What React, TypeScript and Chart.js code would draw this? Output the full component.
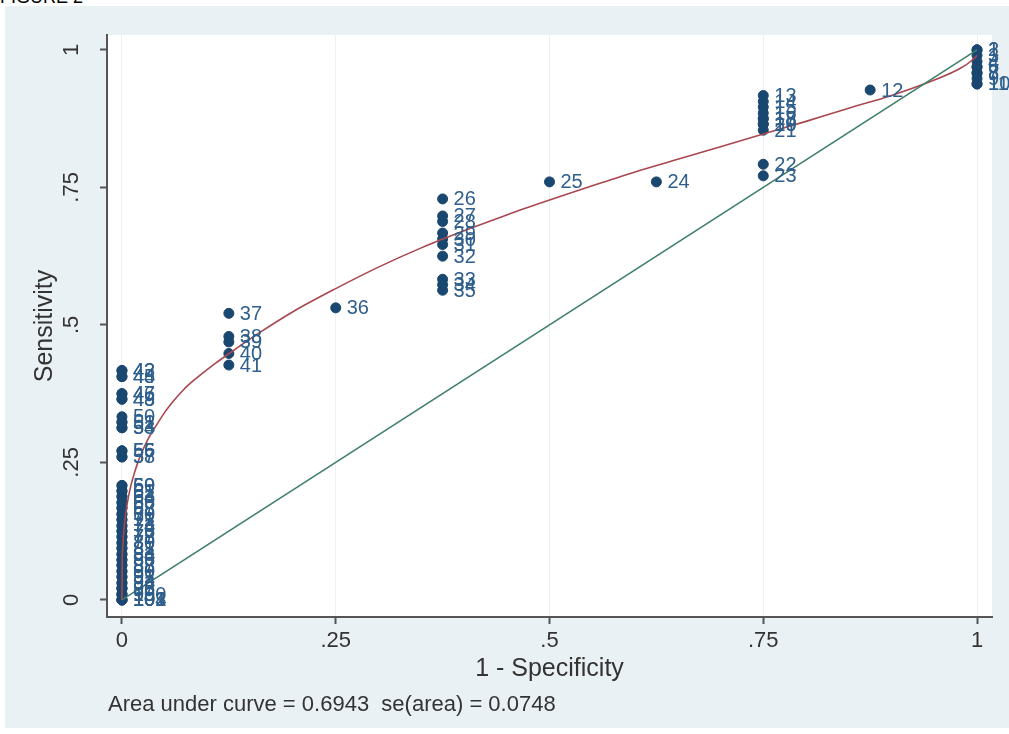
import React, { useEffect, useRef } from "react";
import { Chart, registerables } from "chart.js";

Chart.register(...registerables);

const FONT = "'Liberation Sans', Arial, sans-serif";

const xTicks = [0, 0.25, 0.5, 0.75, 1];
const xTickLabels = ["0", ".25", ".5", ".75", "1"];
const yTicks = [0, 0.25, 0.5, 0.75, 1];
const yTickLabels = ["0", ".25", ".5", ".75", "1"];

const xTitle = "1 - Specificity";
const yTitle = "Sensitivity";
const noteText = "Area under curve = 0.6943  se(area) = 0.0748";
const figureText = "FIGURE 2";

// ROC points (observation labels, 1 - specificity, sensitivity)
const pointLabels = [
  "1", "2", "3", "4", "5", "6", "7", "8", "9", "10", "11",
  "12",
  "13", "14", "15", "16", "17", "18", "19", "20", "21", "22", "23",
  "24", "25",
  "26", "27", "28", "29", "30", "31", "32", "33", "34", "35",
  "36",
  "37", "38", "39", "40", "41",
  "42", "43", "44", "45", "46", "47", "48", "49", "50", "51", "52", "53", "54", "55", "56", "57", "58",
  "59", "60", "61", "62", "63", "64", "65", "66", "67", "68", "69", "70", "71", "72", "73", "74", "75", "76",
  "77", "78", "79", "80", "81", "82", "83", "84", "85", "86", "87", "88", "89", "90", "91", "92", "93", "94",
  "95", "96", "97", "98", "99", "100", "101", "102", "103", "104",
];
const pointX = [
  1, 1, 1, 1, 1, 1, 1, 1, 1, 1, 1,
  0.875,
  0.75, 0.75, 0.75, 0.75, 0.75, 0.75, 0.75, 0.75, 0.75, 0.75, 0.75,
  0.625, 0.5,
  0.375, 0.375, 0.375, 0.375, 0.375, 0.375, 0.375, 0.375, 0.375, 0.375,
  0.25,
  0.125, 0.125, 0.125, 0.125, 0.125,
  0, 0, 0, 0, 0, 0, 0, 0, 0, 0, 0, 0, 0, 0, 0, 0, 0,
  0, 0, 0, 0, 0, 0, 0, 0, 0, 0, 0, 0, 0, 0, 0, 0, 0, 0,
  0, 0, 0, 0, 0, 0, 0, 0, 0, 0, 0, 0, 0, 0, 0, 0, 0, 0,
  0, 0, 0, 0, 0, 0, 0, 0, 0, 0,
];
const pointY = [
  1, 1, 0.99, 0.979, 0.969, 0.969, 0.958, 0.958, 0.948, 0.938, 0.938,
  0.927,
  0.917, 0.906, 0.896, 0.885, 0.875, 0.875, 0.865, 0.865, 0.854, 0.792, 0.771,
  0.76, 0.76,
  0.729, 0.698, 0.688, 0.667, 0.656, 0.646, 0.625, 0.583, 0.573, 0.563,
  0.531,
  0.521, 0.479, 0.469, 0.448, 0.427,
  0.417, 0.417, 0.406, 0.406, 0.375, 0.375, 0.365, 0.365, 0.333, 0.323, 0.323, 0.313, 0.313, 0.271, 0.271, 0.26, 0.26,
  0.208, 0.208, 0.198, 0.198, 0.188, 0.188, 0.177, 0.177, 0.167, 0.167, 0.156, 0.156, 0.146, 0.146, 0.135, 0.135, 0.125, 0.125,
  0.115, 0.115, 0.104, 0.104, 0.094, 0.094, 0.083, 0.083, 0.073, 0.073, 0.063, 0.063, 0.052, 0.052, 0.042, 0.042, 0.031, 0.031,
  0.021, 0.021, 0.021, 0.01, 0.01, 0.01, 0, 0, 0, 0,
];

// Fitted (smooth) ROC curve
const curveX = [0, 0.0003, 0.001, 0.003, 0.006, 0.01, 0.015, 0.02, 0.03, 0.04, 0.05, 0.06, 0.07, 0.08, 0.09, 0.11, 0.13, 0.16, 0.2, 0.25, 0.3, 0.35, 0.4, 0.45, 0.5, 0.55, 0.6, 0.65, 0.7, 0.75, 0.8, 0.85, 0.9, 0.95, 0.98, 0.995, 1];
const curveY = [0, 0.066, 0.098, 0.139, 0.174, 0.205, 0.233, 0.256, 0.291, 0.317, 0.341, 0.361, 0.379, 0.394, 0.407, 0.431, 0.453, 0.485, 0.524, 0.566, 0.605, 0.64, 0.671, 0.7, 0.727, 0.753, 0.778, 0.801, 0.824, 0.847, 0.87, 0.894, 0.917, 0.945, 0.966, 0.982, 0.99];

// Chance diagonal
const diagX = [0, 1];
const diagY = [0, 1];

const NAVY = "#1a476f";
const MAROON = "#a9474f";
const GREEN = "#3f7f68";
const AXIS = "#555555";
const TEXT = "#333333";

export default function App() {
  const ref = useRef<HTMLCanvasElement | null>(null);

  useEffect(() => {
    const canvas = ref.current;
    if (!canvas) return;

    const plotBg = {
      id: "plotBg",
      beforeDraw(chart: any) {
        const { ctx, chartArea: a } = chart;
        ctx.save();
        ctx.fillStyle = "#ffffff";
        ctx.fillRect(a.left, a.top, a.right - a.left, a.bottom - a.top);
        ctx.restore();
      },
    };

    const pointText = {
      id: "pointText",
      afterDatasetsDraw(chart: any) {
        const { ctx } = chart;
        const meta = chart.getDatasetMeta(0);
        ctx.save();
        ctx.font = `20px ${FONT}`;
        ctx.fillStyle = "#2f5f8c";
        ctx.textAlign = "left";
        ctx.textBaseline = "middle";
        meta.data.forEach((el: any, i: number) => {
          ctx.fillText(pointLabels[i], el.x + 11, el.y + 1);
        });
        ctx.restore();
      },
    };

    const extraText = {
      id: "extraText",
      afterDraw(chart: any) {
        const { ctx, scales } = chart;
        const ys = scales.y;
        ctx.save();
        ctx.fillStyle = TEXT;
        ctx.font = `22px ${FONT}`;
        ctx.textAlign = "center";
        ctx.textBaseline = "middle";
        yTicks.forEach((v, i) => {
          const py = ys.getPixelForValue(v);
          ctx.save();
          ctx.translate(67, py);
          ctx.rotate(-Math.PI / 2);
          ctx.fillText(yTickLabels[i], 0, 0);
          ctx.restore();
        });
        ctx.font = `22px ${FONT}`;
        ctx.textAlign = "left";
        ctx.fillText(noteText, 103, 699);
        ctx.restore();
      },
    };

    const chart = new Chart(canvas, {
      type: "scatter",
      data: {
        datasets: [
          {
            label: "ROC points",
            data: pointX.map((x, i) => ({ x, y: pointY[i] })),
            backgroundColor: NAVY,
            borderColor: NAVY,
            pointRadius: 5,
            pointBorderWidth: 1,
            order: 3,
          },
          {
            label: "Fitted ROC",
            data: curveX.map((x, i) => ({ x, y: curveY[i] })),
            showLine: true,
            borderColor: MAROON,
            borderWidth: 1.6,
            pointRadius: 0,
            cubicInterpolationMode: "monotone",
            order: 2,
          } as any,
          {
            label: "Reference",
            data: diagX.map((x, i) => ({ x, y: diagY[i] })),
            showLine: true,
            borderColor: GREEN,
            borderWidth: 1.6,
            pointRadius: 0,
            order: 1,
          } as any,
        ],
      },
      options: {
        animation: false,
        responsive: false,
        maintainAspectRatio: false,
        events: [],
        layout: { padding: { left: 0, top: 29, right: 17, bottom: 0 } },
        plugins: {
          legend: { display: false },
          tooltip: { enabled: false },
          title: { display: false },
        },
        scales: {
          x: {
            type: "linear",
            min: -0.0175,
            max: 1.0175,
            afterBuildTicks: (s: any) => {
              s.ticks = xTicks.map((v) => ({ value: v }));
            },
            afterFit: (s: any) => {
              s.height = 111;
            },
            ticks: {
              autoSkip: false,
              maxRotation: 0,
              minRotation: 0,
              padding: 4,
              color: TEXT,
              font: { family: FONT, size: 22 },
              callback: (_v: any, i: number) => xTickLabels[i],
            },
            grid: {
              drawOnChartArea: true,
              color: "rgba(225,234,238,0.7)",
              lineWidth: 1,
              drawTicks: true,
              tickLength: 7,
              tickColor: AXIS,
              tickWidth: 2,
            },
            border: { display: true, color: AXIS, width: 2 },
            title: {
              display: true,
              text: xTitle,
              color: TEXT,
              font: { family: FONT, size: 25 },
              padding: { top: 0, bottom: 44 },
            },
          },
          y: {
            type: "linear",
            min: -0.031,
            max: 1.027,
            afterBuildTicks: (s: any) => {
              s.ticks = yTicks.map((v) => ({ value: v }));
            },
            afterFit: (s: any) => {
              s.width = 102;
            },
            ticks: {
              autoSkip: false,
              color: "rgba(0,0,0,0)",
              font: { family: FONT, size: 22 },
              callback: (_v: any, i: number) => yTickLabels[i],
            },
            grid: {
              drawOnChartArea: false,
              drawTicks: true,
              tickLength: 7,
              tickColor: AXIS,
              tickWidth: 2,
            },
            border: { display: true, color: AXIS, width: 2 },
            title: {
              display: true,
              text: yTitle,
              color: TEXT,
              font: { family: FONT, size: 25 },
              padding: { top: 25, bottom: 0 },
            },
          },
        },
      },
      plugins: [plotBg, pointText, extraText],
    });

    return () => {
      chart.destroy();
    };
  }, []);

  return (
    <div
      style={{
        position: "absolute",
        left: 0,
        top: 0,
        width: 1009,
        height: 734,
        background: "#ffffff",
        overflow: "hidden",
      }}
    >
      <div
        style={{
          position: "absolute",
          left: 0,
          top: -12,
          fontFamily: FONT,
          fontSize: 18,
          lineHeight: "18px",
          color: "#000",
          whiteSpace: "nowrap",
        }}
      >
        {figureText}
      </div>
      <div
        style={{
          position: "absolute",
          left: 5,
          top: 6,
          width: 1004,
          height: 722,
          background: "#eaf1f4",
        }}
      >
        <canvas ref={ref} width={1004} height={722} style={{ width: 1004, height: 722, display: "block" }} />
      </div>
    </div>
  );
}
